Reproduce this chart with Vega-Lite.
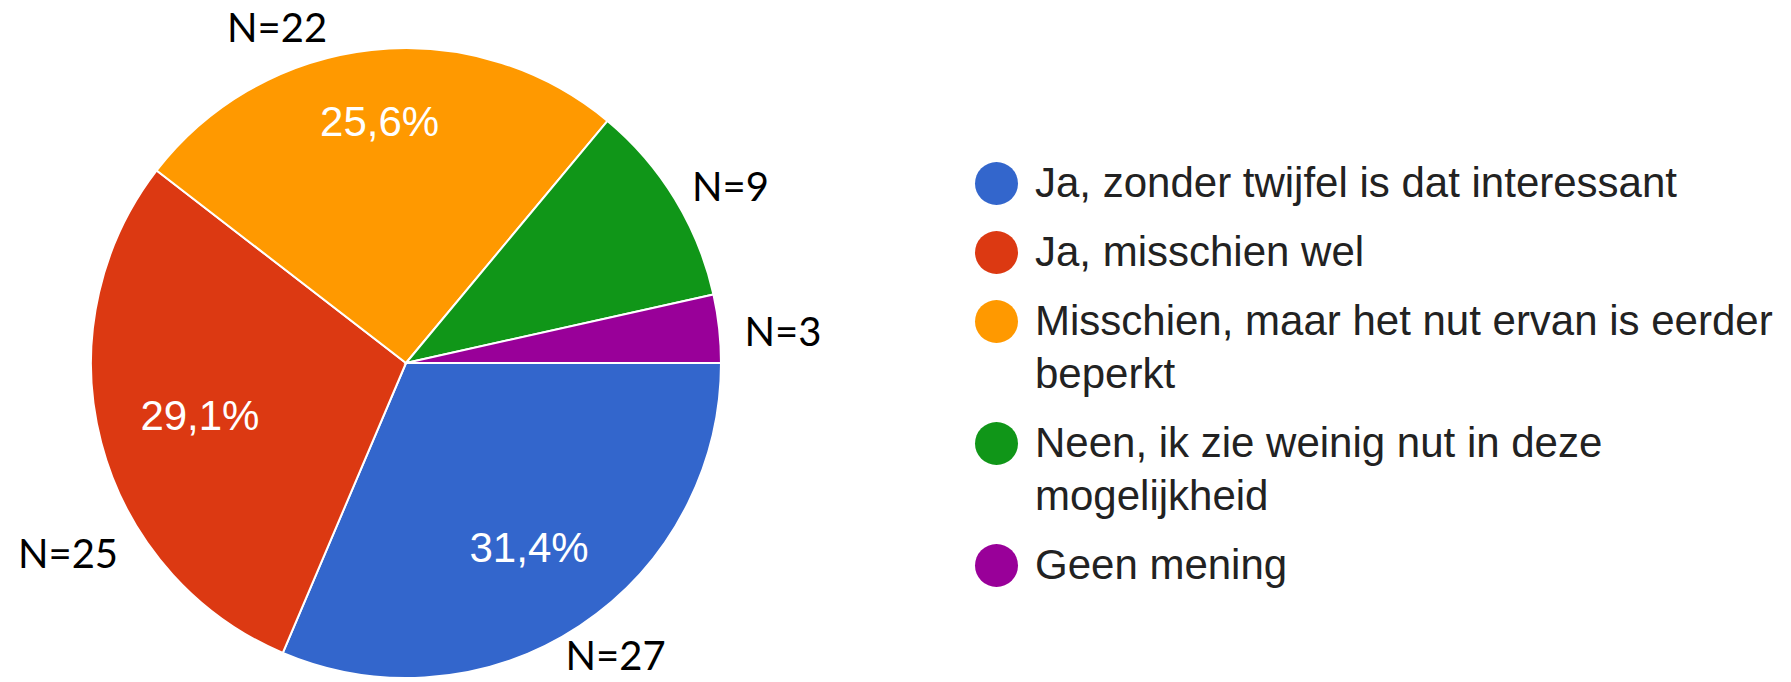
{
  "$schema": "https://vega.github.io/schema/vega-lite/v6.json",
  "width": 812,
  "height": 638,
  "padding": {"left": 0, "top": 44, "right": 979, "bottom": 0},
  "autosize": {"type": "none"},
  "background": "white",
  "data": {
    "values": [
      {"answer": "Ja, zonder twijfel is dat interessant", "n": 27, "rank": 1},
      {"answer": "Ja, misschien wel", "n": 25, "rank": 2},
      {"answer": "Misschien, maar het nut ervan is eerder beperkt", "n": 22, "rank": 3},
      {"answer": "Neen, ik zie weinig nut in deze mogelijkheid", "n": 9, "rank": 4},
      {"answer": "Geen mening", "n": 3, "rank": 5}
    ]
  },
  "transform": [
    {"joinaggregate": [{"op": "sum", "field": "n", "as": "total"}]},
    {"calculate": "datum.n / datum.total", "as": "pct"},
    {"calculate": "'N=' + datum.n", "as": "nlabel"}
  ],
  "layer": [
    {
      "mark": {"type": "arc", "outerRadius": 315, "stroke": "white", "strokeWidth": 2},
      "encoding": {
        "theta": {"field": "n", "type": "quantitative", "stack": true, "scale": {"range": [1.5708, 7.854]}},
        "order": {"field": "rank", "type": "quantitative"},
        "color": {
          "field": "answer",
          "type": "nominal",
          "scale": {
            "domain": [
              "Ja, zonder twijfel is dat interessant",
              "Ja, misschien wel",
              "Misschien, maar het nut ervan is eerder beperkt",
              "Neen, ik zie weinig nut in deze mogelijkheid",
              "Geen mening"
            ],
            "range": ["#3366cc", "#dc3912", "#ff9900", "#109618", "#990099"]
          },
          "legend": {
            "orient": "none",
            "legendX": 975,
            "legendY": 118,
            "title": null,
            "padding": 0,
            "symbolType": "circle",
            "symbolSize": 1849,
            "symbolStrokeWidth": 0,
            "symbolOpacity": 1,
            "labelFont": "Liberation Sans",
            "labelFontSize": 42,
            "labelColor": "#222222",
            "labelLimit": 2000,
            "labelOffset": 17,
            "rowPadding": 26,
            "labelExpr": "datum.label == 'Misschien, maar het nut ervan is eerder beperkt' ? ['Misschien, maar het nut ervan is eerder', 'beperkt'] : datum.label == 'Neen, ik zie weinig nut in deze mogelijkheid' ? ['Neen, ik zie weinig nut in deze', 'mogelijkheid'] : datum.label",
            "encode": {"labels": {"enter": {"lineHeight": {"value": 53}}, "update": {"lineHeight": {"value": 53}}}}
          }
        }
      }
    },
    {
      "mark": {"type": "text", "radius": 223, "font": "Liberation Sans", "fontSize": 42, "color": "white"},
      "encoding": {
        "theta": {"field": "n", "type": "quantitative", "stack": true},
        "order": {"field": "rank", "type": "quantitative"},
        "detail": {"field": "answer", "type": "nominal"},
        "text": {"condition": {"test": "datum.rank != 1", "value": ""}, "field": "pct", "type": "quantitative", "format": ".1%"}
      }
    },
    {
      "mark": {"type": "text", "radius": 213, "font": "Liberation Sans", "fontSize": 42, "color": "white"},
      "encoding": {
        "theta": {"field": "n", "type": "quantitative", "stack": true},
        "order": {"field": "rank", "type": "quantitative"},
        "detail": {"field": "answer", "type": "nominal"},
        "text": {"condition": {"test": "datum.rank != 2", "value": ""}, "field": "pct", "type": "quantitative", "format": ".1%"}
      }
    },
    {
      "mark": {"type": "text", "radius": 241, "font": "Liberation Sans", "fontSize": 42, "color": "white"},
      "encoding": {
        "theta": {"field": "n", "type": "quantitative", "stack": true},
        "order": {"field": "rank", "type": "quantitative"},
        "detail": {"field": "answer", "type": "nominal"},
        "text": {"condition": {"test": "datum.rank != 3", "value": ""}, "field": "pct", "type": "quantitative", "format": ".1%"}
      }
    },
    {
      "mark": {"type": "text", "radius": 362, "thetaOffset": -0.033, "font": "Lato", "fontSize": 40, "color": "black"},
      "encoding": {
        "theta": {"field": "n", "type": "quantitative", "stack": true},
        "order": {"field": "rank", "type": "quantitative"},
        "detail": {"field": "answer", "type": "nominal"},
        "text": {"condition": {"test": "datum.rank != 1", "value": ""}, "field": "nlabel", "type": "nominal"}
      }
    },
    {
      "mark": {"type": "text", "radius": 389, "thetaOffset": -0.262, "font": "Lato", "fontSize": 40, "color": "black"},
      "encoding": {
        "theta": {"field": "n", "type": "quantitative", "stack": true},
        "order": {"field": "rank", "type": "quantitative"},
        "detail": {"field": "answer", "type": "nominal"},
        "text": {"condition": {"test": "datum.rank != 2", "value": ""}, "field": "nlabel", "type": "nominal"}
      }
    },
    {
      "mark": {"type": "text", "radius": 357, "thetaOffset": -0.26, "font": "Lato", "fontSize": 40, "color": "black"},
      "encoding": {
        "theta": {"field": "n", "type": "quantitative", "stack": true},
        "order": {"field": "rank", "type": "quantitative"},
        "detail": {"field": "answer", "type": "nominal"},
        "text": {"condition": {"test": "datum.rank != 3", "value": ""}, "field": "nlabel", "type": "nominal"}
      }
    },
    {
      "mark": {"type": "text", "radius": 368, "thetaOffset": 0.056, "font": "Lato", "fontSize": 40, "color": "black"},
      "encoding": {
        "theta": {"field": "n", "type": "quantitative", "stack": true},
        "order": {"field": "rank", "type": "quantitative"},
        "detail": {"field": "answer", "type": "nominal"},
        "text": {"condition": {"test": "datum.rank != 4", "value": ""}, "field": "nlabel", "type": "nominal"}
      }
    },
    {
      "mark": {"type": "text", "radius": 378, "thetaOffset": 0.033, "font": "Lato", "fontSize": 40, "color": "black"},
      "encoding": {
        "theta": {"field": "n", "type": "quantitative", "stack": true},
        "order": {"field": "rank", "type": "quantitative"},
        "detail": {"field": "answer", "type": "nominal"},
        "text": {"condition": {"test": "datum.rank != 5", "value": ""}, "field": "nlabel", "type": "nominal"}
      }
    }
  ],
  "config": {
    "view": {"stroke": null},
    "style": {"guide-label": {"lineHeight": 53}},
    "locale": {"number": {"decimal": ",", "thousands": ".", "grouping": [3], "currency": ["", " €"]}}
  }
}
